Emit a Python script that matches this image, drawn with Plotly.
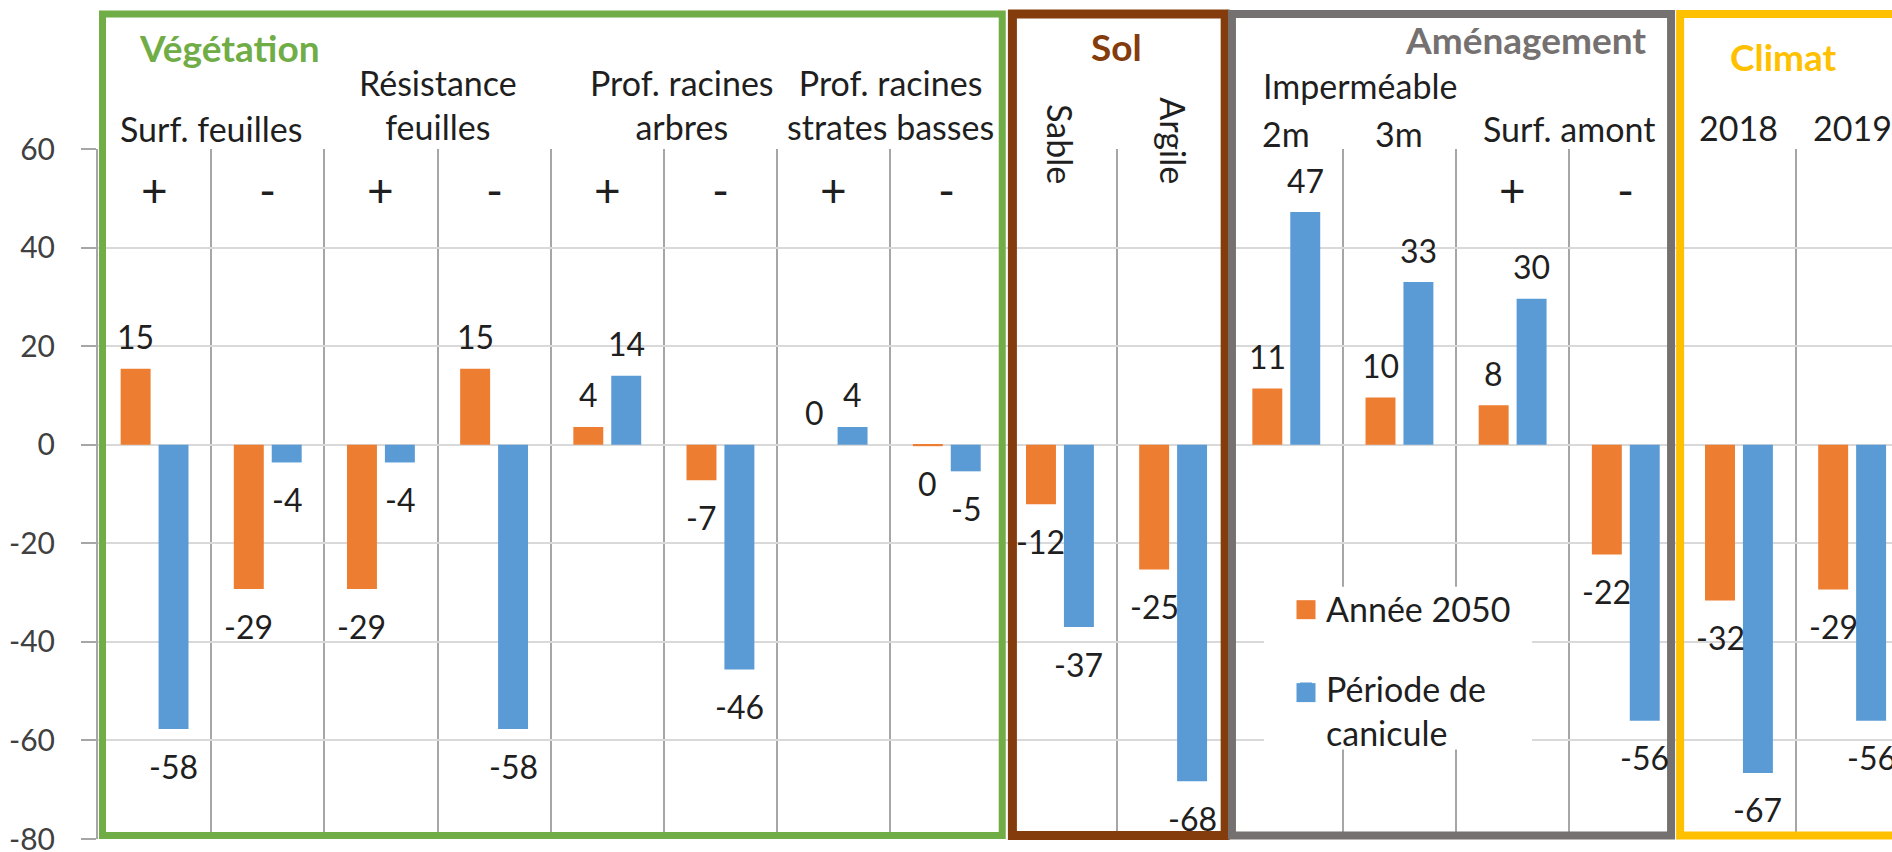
import plotly.graph_objects as go

# ---------------- data ----------------
categories = ["Surf. feuilles +", "Surf. feuilles -",
              "Résistance feuilles +", "Résistance feuilles -",
              "Prof. racines arbres +", "Prof. racines arbres -",
              "Prof. racines strates basses +", "Prof. racines strates basses -",
              "Sable", "Argile",
              "Imperméable 2m", "Imperméable 3m",
              "Surf. amont +", "Surf. amont -",
              "2018", "2019"]
signs = ["+", "-", "+", "-", "+", "-", "+", "-", "", "", "", "", "+", "-", "", ""]
annee_2050 = [15.4, -29.3, -29.3, 15.4, 3.6, -7.2, 0.0, -0.3,
              -12.1, -25.3, 11.4, 9.6, 8.0, -22.3, -31.6, -29.4]
periode_canicule = [-57.7, -3.6, -3.6, -57.7, 14.0, -45.6, 3.6, -5.4,
                    -37.0, -68.3, 47.2, 33.0, 29.6, -56.0, -66.6, -56.0]
series_names = ["Année 2050", "Période de<br>canicule"]
groups = ["Végétation", "Sol", "Aménagement", "Climat"]
param_labels = ["Surf. feuilles", "Résistance<br>feuilles", "Prof. racines<br>arbres",
                "Prof. racines<br>strates basses", "2m", "3m", "Surf. amont", "2018", "2019"]
rotated_labels = ["Sable", "Argile"]
sub_group_label = "Imperméable"
y_ticks = [-80, -60, -40, -20, 0, 20, 40, 60]
y_tick_text = [str(v) for v in y_ticks]

# ---------------- layout helpers ----------------
W, H = 1892, 852
ML, MT, MB = 98, 149, 12.5
PLOT_H = H - MT - MB
CAT_W = 113.17
X_END = -0.5 + (W - ML) / CAT_W
BARGAP, BARGROUPGAP = 0.33, 0.21
BAR_OFF = (1 - BARGAP) / 4

FONT = "Lato"
TXT = "#1f1f1f"
ORANGE, BLUE = "#ED7D31", "#5B9BD5"


def ppy(p):  # pixel row -> paper y
    return (H - MB - p) / PLOT_H


def pxx(p):  # pixel column -> category axis position
    return -0.5 + (p - ML) / CAT_W


fig = go.Figure()
fig.add_trace(go.Bar(x=categories, y=annee_2050, name=series_names[0],
                     marker=dict(color=ORANGE, line=dict(width=0)), legendgroup="a"))
fig.add_trace(go.Bar(x=categories, y=periode_canicule, name=series_names[1],
                     marker=dict(color=BLUE, line=dict(width=0)), legendgroup="b"))

ann = []
# data labels
for vals, off in ((annee_2050, -BAR_OFF), (periode_canicule, BAR_OFF)):
    for i, v in enumerate(vals):
        ann.append(dict(x=i + off, y=v, xref="x", yref="y", text=f"{round(v)}",
                        showarrow=False, yanchor="middle",
                        yshift=32 if v >= 0 else -37,
                        font=dict(family=FONT, size=32, color=TXT)))

# +/- signs
for i, s in enumerate(signs):
    if s:
        ann.append(dict(x=i, y=ppy(190), xref="x", yref="paper", text=s, showarrow=False,
                        yanchor="middle", font=dict(family=FONT, size=46, color=TXT)))

# parameter labels (above plot)
param_pos = [0.5, 2.5, 4.66, 6.5, 10, 11, 12.5, 14, 15]
param_bottom = [151, 149, 149, 149, 156, 156, 151, 150, 150]
for t, xp, yb in zip(param_labels, param_pos, param_bottom):
    ann.append(dict(x=xp, y=ppy(yb), xref="x", yref="paper", text=t, showarrow=False,
                    xanchor="center", yanchor="bottom",
                    font=dict(family=FONT, size=34, color=TXT)))

ann.append(dict(x=pxx(1360), y=ppy(108), xref="x", yref="paper", text=sub_group_label,
                showarrow=False, xanchor="center", yanchor="bottom",
                font=dict(family=FONT, size=34, color=TXT)))

for t, xi in zip(rotated_labels, (8, 9)):
    ann.append(dict(x=xi, y=ppy(186), xref="x", yref="paper", text=t, showarrow=False,
                    textangle=90, xanchor="center", yanchor="bottom", bgcolor="white",
                    font=dict(family=FONT, size=34, color=TXT)))

# group titles
group_colors = ["#70AD47", "#843C0C", "#767171", "#FFC000"]
group_pos = [(pxx(137), "left", 72), (8.5, "center", 71),
             (pxx(1648), "right", 64), (pxx(1783), "center", 81)]
for g, c, (xp, xa, yb) in zip(groups, group_colors, group_pos):
    ann.append(dict(x=xp, y=ppy(yb), xref="x", yref="paper", text=f"<b>{g}</b>",
                    showarrow=False, xanchor=xa, yanchor="bottom",
                    font=dict(family=FONT, size=37, color=c)))

shapes = []
# white legend background (covers gridlines) and larger legend swatches
shapes.append(dict(type="rect", xref="x", yref="paper", x0=pxx(1264), x1=pxx(1532),
                   y0=ppy(750), y1=ppy(587), line=dict(width=0), fillcolor="white",
                   layer="above"))
for col, cy in ((ORANGE, 610), (BLUE, 693)):
    shapes.append(dict(type="rect", xref="x", yref="paper", x0=pxx(1296.5), x1=pxx(1315.5),
                       y0=ppy(cy + 9.5), y1=ppy(cy - 9.5), line=dict(width=0),
                       fillcolor=col, layer="above"))

# group boxes
box_top, box_bot = ppy(14), ppy(836)
boxes = [(-0.46, 7.49, "#70AD47", 7), (7.58, 9.46, "#843C0C", 9),
         (9.52, 13.40, "#767171", 8), (13.48, 16.8, "#FFC000", 8)]
shapes += [dict(type="rect", xref="x", yref="paper", x0=a, x1=b, y0=box_bot, y1=box_top,
                line=dict(color=c, width=w), fillcolor="rgba(0,0,0,0)", layer="above")
           for a, b, c, w in boxes]

fig.update_layout(
    width=W, height=H,
    margin=dict(l=ML, r=0, t=MT, b=MB, pad=0, autoexpand=False),
    paper_bgcolor="white", plot_bgcolor="white",
    barmode="group", bargap=BARGAP, bargroupgap=BARGROUPGAP,
    font=dict(family=FONT, color=TXT),
    xaxis=dict(type="category", categoryorder="array", categoryarray=categories,
               range=[-0.5, X_END], tickson="boundaries", showgrid=True,
               gridcolor="#A6A6A6", gridwidth=2, showticklabels=False, ticks="",
               zeroline=False, showline=False, fixedrange=True),
    yaxis=dict(range=[-80, 60], tickvals=y_ticks, ticktext=y_tick_text,
               showgrid=True, gridcolor="#D9D9D9",
               gridwidth=2, zeroline=True, zerolinecolor="#D9D9D9", zerolinewidth=2,
               ticks="outside", ticklen=15, tickwidth=2, tickcolor="#A6A6A6",
               ticklabelstandoff=20, ticklabeloverflow="allow",
               showline=True, linecolor="#A6A6A6", linewidth=2,
               tickfont=dict(family=FONT, size=30, color="#404040"), fixedrange=True),
    legend=dict(x=(1286 - ML) / (W - ML), y=ppy(580), xanchor="left", yanchor="top",
                bgcolor="rgba(0,0,0,0)", borderwidth=0, traceorder="grouped",
                tracegroupgap=33, valign="top",
                font=dict(family=FONT, size=34, color=TXT)),
    annotations=ann, shapes=shapes,
)

fig.write_html("out.html", config={"displayModeBar": False},
               post_script="document.body.style.margin='0';")
